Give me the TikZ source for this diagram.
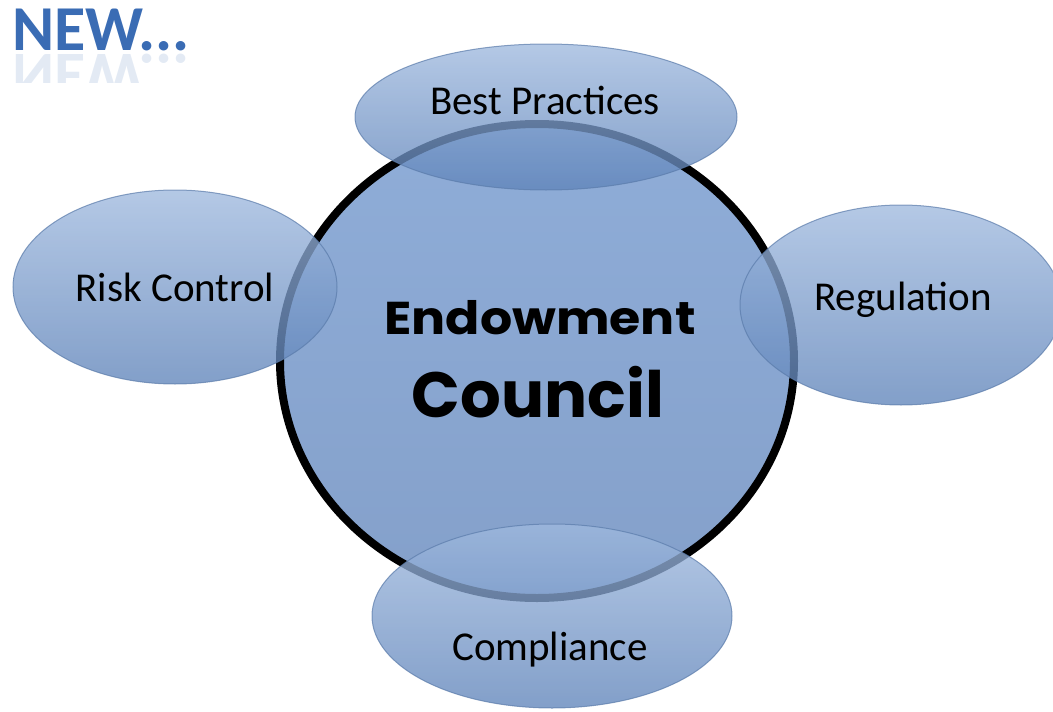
\documentclass[tikz,border=0pt]{standalone}
\usepackage{fontspec}
\setmainfont{Carlito}
\newfontfamily\deco{Poppins}
\usetikzlibrary{shapes.geometric}
\definecolor{petaltop}{HTML}{9FB9DE}
\definecolor{petalbot}{HTML}{5F84BA}
\definecolor{petaledge}{HTML}{5A7BAA}
\definecolor{hubtop}{HTML}{8FADD8}
\definecolor{hubbot}{HTML}{84A0CA}
\definecolor{newblue}{HTML}{3A6CB4}
\begin{document}
\begin{tikzpicture}[x=1pt,y=-1pt,
  hub/.style={ellipse, draw=black, line width=8pt, top color=hubtop, bottom color=hubbot, inner sep=0pt},
  petal/.style={ellipse, draw=petaledge, line width=1pt, top color=petaltop, bottom color=petalbot, fill opacity=0.78, draw opacity=0.7, inner sep=0pt},
  lbl/.style={font=\fontsize{41}{44}\selectfont, text=black},
  newtext/.style={font=\bfseries\fontsize{64}{64}\selectfont, text=newblue}]
\useasboundingbox (0,0) rectangle (1053,712);
% central circle
\node[hub, minimum width=514pt, minimum height=474pt] (hubc) at (537,361) {};
% petals
\node[petal, minimum width=382pt, minimum height=146pt] (bp) at (546,117) {};
\node[petal, minimum width=324pt, minimum height=194pt] (rc) at (175,287) {};
\node[petal, minimum width=322pt, minimum height=200pt] (rg) at (901,305) {};
\node[petal, minimum width=360pt, minimum height=184pt] (cp) at (552,616) {};
% labels
\node[lbl] (bpt) at (545,100) {Best Practices};
\node[lbl] (rct) at (175,287) {Risk Control};
\node[lbl] (rgt) at (903,300) {Regulation};
\node[lbl] (cpt) at (550,650) {Compliance};
\node[font=\deco\bfseries\fontsize{46}{48}\selectfont, text=black] (end) at (540,318) {\scalebox{1.1}[1]{Endowment}};
\node[font=\deco\bfseries\fontsize{64}{66}\selectfont, text=black] (cou) at (538,392) {Council};
% NEW...
\node[newtext, anchor=base west, inner sep=0pt] (new) at (12,50) {NEW...};
\begin{scope}
  \clip (0,52) rectangle (220,82);
  \node[newtext, text opacity=0.14, anchor=base west, inner sep=0pt] (newr) at (12,54) {\scalebox{1}[-1]{NEW...}};
\end{scope}
\end{tikzpicture}
\end{document}
